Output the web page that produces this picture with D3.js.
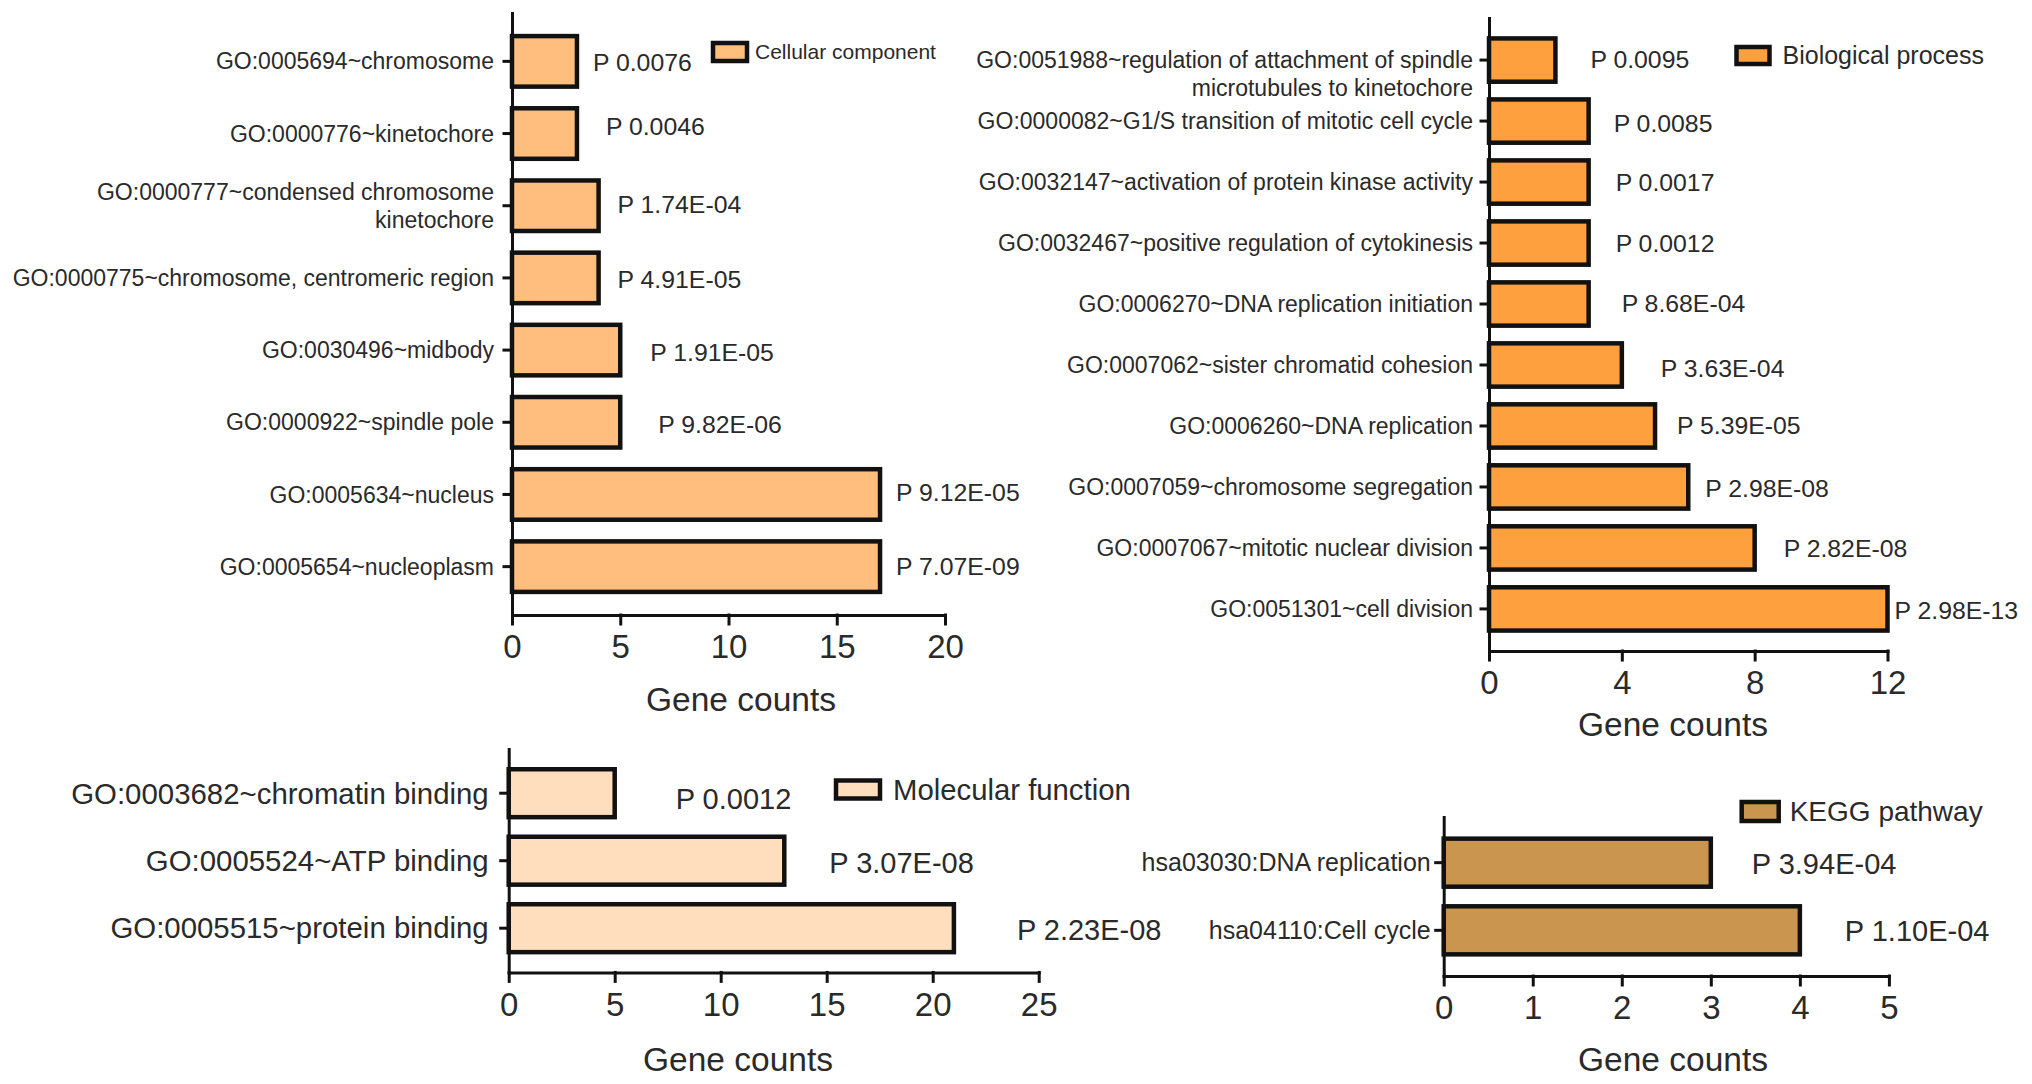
<!DOCTYPE html>
<html>
<head>
<meta charset="utf-8">
<script src="https://cdn.jsdelivr.net/npm/d3@7"></script>
<style>
  body { margin: 0; background: #fff; }
  svg text { font-family: "Liberation Sans", Arial, Helvetica, sans-serif; fill: #2a2a2a; }
</style>
</head>
<body>
<svg id="chart" width="2032" height="1084"></svg>
<script>
// Cellular component
const ccTerms = [
  "GO:0005694~chromosome",
  "GO:0000776~kinetochore",
  "GO:0000777~condensed chromosome kinetochore",
  "GO:0000775~chromosome, centromeric region",
  "GO:0030496~midbody",
  "GO:0000922~spindle pole",
  "GO:0005634~nucleus",
  "GO:0005654~nucleoplasm"
];
const ccCounts = [3, 3, 4, 4, 5, 5, 17, 17];
const ccPvals = ["P 0.0076", "P 0.0046", "P 1.74E-04", "P 4.91E-05", "P 1.91E-05", "P 9.82E-06", "P 9.12E-05", "P 7.07E-09"];
const ccTicks = [0, 5, 10, 15, 20];

// Biological process
const bpTerms = [
  "GO:0051988~regulation of attachment of spindle microtubules to kinetochore",
  "GO:0000082~G1/S transition of mitotic cell cycle",
  "GO:0032147~activation of protein kinase activity",
  "GO:0032467~positive regulation of cytokinesis",
  "GO:0006270~DNA replication initiation",
  "GO:0007062~sister chromatid cohesion",
  "GO:0006260~DNA replication",
  "GO:0007059~chromosome segregation",
  "GO:0007067~mitotic nuclear division",
  "GO:0051301~cell division"
];
const bpCounts = [2, 3, 3, 3, 3, 4, 5, 6, 8, 12];
const bpPvals = ["P 0.0095", "P 0.0085", "P 0.0017", "P 0.0012", "P 8.68E-04", "P 3.63E-04", "P 5.39E-05", "P 2.98E-08", "P 2.82E-08", "P 2.98E-13"];
const bpTicks = [0, 4, 8, 12];

// Molecular function
const mfTerms = ["GO:0003682~chromatin binding", "GO:0005524~ATP binding", "GO:0005515~protein binding"];
const mfCounts = [5, 13, 21];
const mfPvals = ["P 0.0012", "P 3.07E-08", "P 2.23E-08"];
const mfTicks = [0, 5, 10, 15, 20, 25];

// KEGG pathway
const keggTerms = ["hsa03030:DNA replication", "hsa04110:Cell cycle"];
const keggCounts = [3, 4];
const keggPvals = ["P 3.94E-04", "P 1.10E-04"];
const keggTicks = [0, 1, 2, 3, 4, 5];

const svg = d3.select("#chart");

// layout of the four panels (pixels)
const panels = [
  {
    name: "Cellular component", terms: ccTerms, counts: ccCounts, pvals: ccPvals, ticks: ccTicks,
    color: "#ffbe7d", x: [512, 945], y: [13, 615], padIn: 0.3, padOut: 0.32,
    labelSize: 23, labelPad: 10, pSize: 24.8,
    pNudge: [[16, 1], [29, -7], [19, -1], [19, 1], [30, 2], [38, 2], [16, -2], [16, 0]],
    legend: { x: 713, y: 43, w: 34, h: 18, size: 21, gap: 8 },
    titleX: 741, titleDy: 96,
    // word count of first line, and line shift (in lines) relative to centred
    breaks: { "GO:0000777~condensed chromosome kinetochore": [2, 0] }
  },
  {
    name: "Biological process", terms: bpTerms, counts: bpCounts, pvals: bpPvals, ticks: bpTicks,
    color: "#ffa03e", x: [1489, 1887.5], y: [18, 651], padIn: 0.29, padOut: 0.335,
    labelSize: 23, labelPad: 8, pSize: 24.8,
    pNudge: [[35, -1], [25, 2], [27, 0], [27, 0], [33, -1], [39, 3], [22, -1], [17, 1], [29, 0], [7, 1]],
    legend: { x: 1736.5, y: 47, w: 33, h: 17, size: 25, gap: 13 },
    titleX: 1673, titleDy: 85,
    breaks: { "GO:0051988~regulation of attachment of spindle microtubules to kinetochore": [5, 0.5] }
  },
  {
    name: "Molecular function", terms: mfTerms, counts: mfCounts, pvals: mfPvals, ticks: mfTicks,
    color: "#ffdebe", x: [508.7, 1038.7], y: [749, 972.4], padIn: 0.29, padOut: 0.3,
    labelSize: 29.4, labelPad: 12, pSize: 29,
    pNudge: [[61, 6], [45, 2], [63, 2]],
    legend: { x: 836, y: 780.5, w: 44, h: 18, size: 29.3, gap: 13 },
    titleX: 738, titleDy: 98.6,
    breaks: {}
  },
  {
    name: "KEGG pathway", terms: keggTerms, counts: keggCounts, pvals: keggPvals, ticks: keggTicks,
    color: "#c9954f", x: [1443.7, 1888.9], y: [817, 976], padIn: 0.29, padOut: 0.32,
    labelSize: 25, labelPad: 5, pSize: 29,
    pNudge: [[41, 1], [45, 1]],
    legend: { x: 1741.7, y: 802, w: 37, h: 19, size: 28, gap: 11 },
    titleX: 1673, titleDy: 95,
    breaks: {}
  }
];

function splitLabel(term, breaks) {
  const b = breaks[term];
  if (!b) return { lines: [term], shift: 0 };
  const words = term.split(" ");
  return { lines: [words.slice(0, b[0]).join(" "), words.slice(b[0]).join(" ")], shift: b[1] };
}

function drawPanel(p) {
  const x = d3.scaleLinear().domain([0, d3.max(p.ticks)]).range(p.x);
  const y = d3.scaleBand().domain(p.terms).range(p.y)
      .paddingInner(p.padIn).paddingOuter(p.padOut);

  const g = svg.append("g").attr("class", "panel");

  // Bars
  g.selectAll("rect.bar")
    .data(p.terms)
    .join("rect")
      .attr("class", "bar")
      .attr("x", x(0))
      .attr("y", d => y(d))
      .attr("width", (d, i) => x(p.counts[i]) - x(0))
      .attr("height", y.bandwidth())
      .attr("fill", p.color)
      .attr("stroke", "#111")
      .attr("stroke-width", 4.5);

  // X axis
  const xAxis = g.append("g")
      .attr("transform", `translate(0,${p.y[1]})`)
      .attr("color", "#111")
      .call(d3.axisBottom(x).tickValues(p.ticks).tickFormat(d3.format("d"))
        .tickSize(9).tickPadding(11).tickSizeOuter(0));
  xAxis.selectAll("path, line").attr("stroke-width", 3).attr("stroke-linecap", "square");
  xAxis.selectAll("text").attr("font-size", 33).attr("font-family", null);

  // Y axis
  const yAxis = g.append("g")
      .attr("transform", `translate(${p.x[0]},0)`)
      .attr("color", "#111")
      .call(d3.axisLeft(y).tickSize(8).tickPadding(p.labelPad).tickSizeOuter(0));
  yAxis.selectAll("path, line").attr("stroke-width", 3).attr("stroke-linecap", "square");
  const lh = p.labelSize * 1.2;
  yAxis.selectAll(".tick text")
      .attr("font-size", p.labelSize)
      .attr("font-family", null)
      .each(function(d) {
        const lab = splitLabel(d, p.breaks);
        const t = d3.select(this).text(null).attr("dy", null);
        const tx = t.attr("x");
        lab.lines.forEach((line, i) => {
          t.append("tspan")
            .attr("x", tx)
            .attr("y", (i - (lab.lines.length - 1) / 2 + lab.shift) * lh)
            .attr("dy", "0.35em")
            .text(line);
        });
      });

  // P value labels
  g.selectAll("text.pval")
    .data(p.terms)
    .join("text")
      .attr("class", "pval")
      .attr("x", (d, i) => x(p.counts[i]) + p.pNudge[i][0])
      .attr("y", (d, i) => y(d) + y.bandwidth() / 2 + p.pNudge[i][1])
      .attr("dy", "0.35em")
      .attr("font-size", p.pSize)
      .text((d, i) => p.pvals[i]);

  // Axis title
  g.append("text")
      .attr("x", p.titleX)
      .attr("y", p.y[1] + p.titleDy)
      .attr("text-anchor", "middle")
      .attr("font-size", 33.5)
      .text("Gene counts");

  // Legend
  const L = p.legend;
  g.append("rect")
      .attr("x", L.x)
      .attr("y", L.y)
      .attr("width", L.w)
      .attr("height", L.h)
      .attr("fill", p.color)
      .attr("stroke", "#111")
      .attr("stroke-width", 4.5);
  g.append("text")
      .attr("x", L.x + L.w + L.gap)
      .attr("y", L.y + L.h / 2)
      .attr("dy", "0.35em")
      .attr("font-size", L.size)
      .text(p.name);
}

panels.forEach(drawPanel);
</script>
</body>
</html>
